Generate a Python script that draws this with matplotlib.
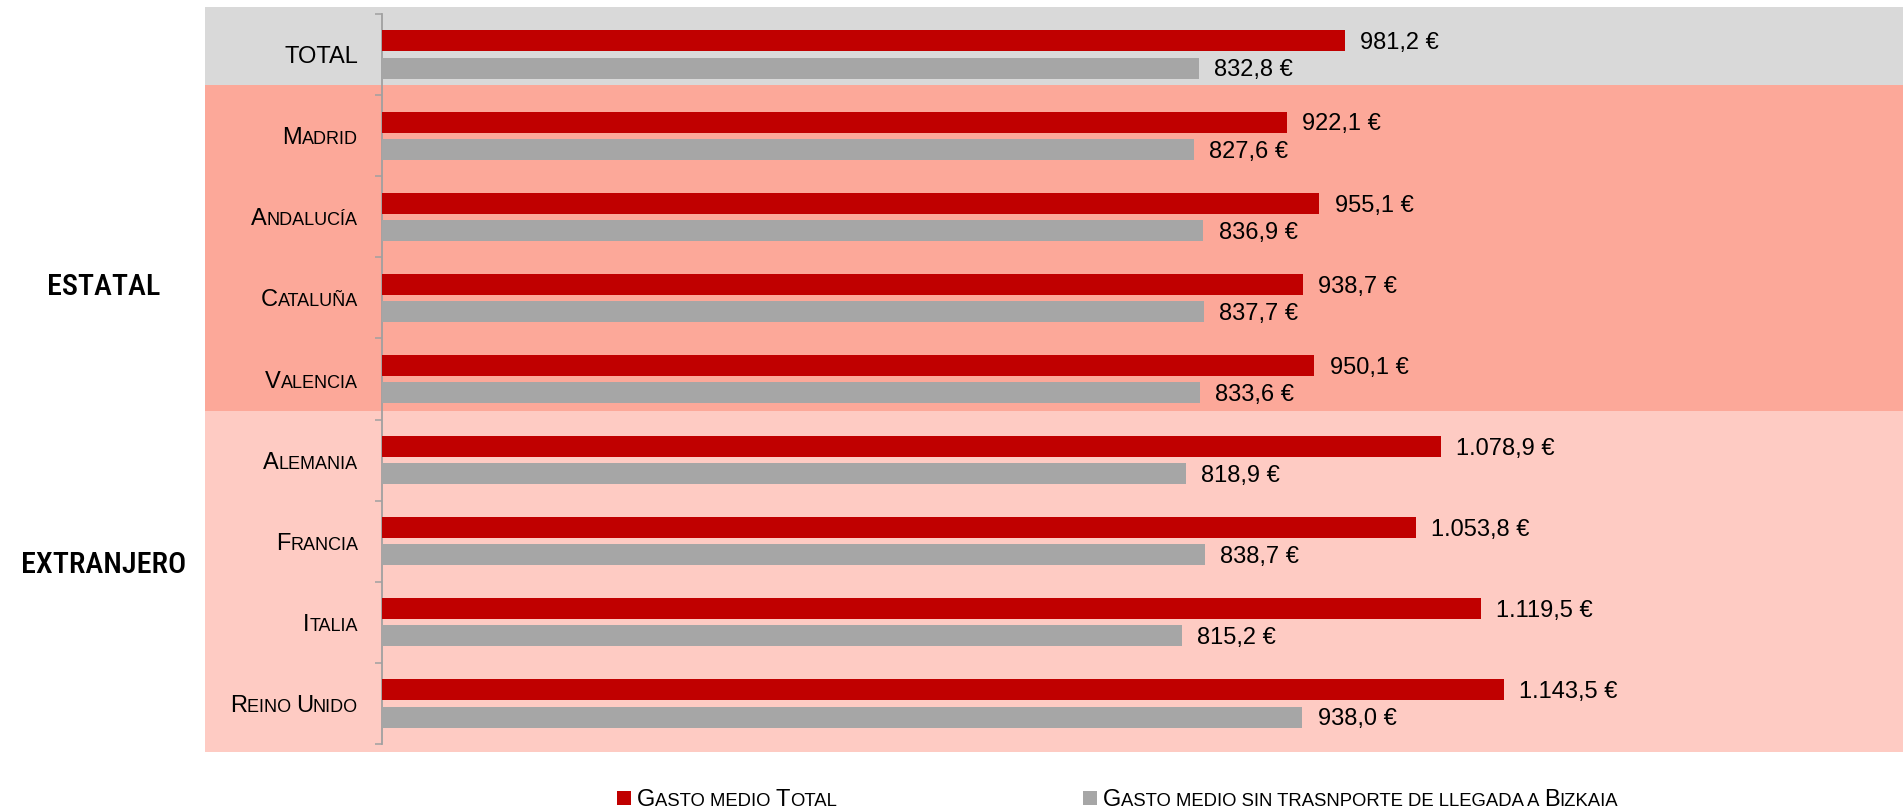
import matplotlib
matplotlib.use("Agg")
import matplotlib.pyplot as plt
from matplotlib import font_manager
from matplotlib.font_manager import FontProperties
from matplotlib.patches import Rectangle
from matplotlib.transforms import IdentityTransform
import numpy as np

# ---------------- data ----------------
categories = ["TOTAL", "Madrid", "Andalucía", "Cataluña", "Valencia",
              "Alemania", "Francia", "Italia", "Reino Unido"]
gasto_total = [981.2, 922.1, 955.1, 938.7, 950.1, 1078.9, 1053.8, 1119.5, 1143.5]
gasto_sin_transporte = [832.8, 827.6, 836.9, 837.7, 833.6, 818.9, 838.7, 815.2, 938.0]
series_labels = ["Gasto medio Total",
                 "Gasto medio sin trasnporte de llegada a Bizkaia"]
group_labels = ["ESTATAL", "EXTRANJERO"]

# ---------------- style ----------------
RED = "#C00000"
GREY = "#A6A6A6"
BAND_GREY = "#D9D9D9"
BAND_SALMON = "#FCA899"
BAND_PINK = "#FECBC3"
AXIS_GREY = "#A0A0A0"

W, H = 1903, 809


def has_font(name):
    try:
        font_manager.findfont(FontProperties(family=name), fallback_to_default=False)
        return True
    except Exception:
        return False


BASE = "Liberation Sans" if has_font("Liberation Sans") else "DejaVu Sans"
NARROW = None
for cand in ["Liberation Sans Narrow", "Roboto Condensed", "Open Sans Condensed"]:
    if has_font(cand):
        NARROW = cand
        break
if NARROW is None:
    GROUP_FAMILY, GROUP_SIZE, GROUP_WEIGHT = BASE, 19.5, "normal"
else:
    GROUP_FAMILY, GROUP_SIZE, GROUP_WEIGHT = NARROW, 21.8, "medium"

fig = plt.figure(figsize=(W / 100, H / 100), dpi=100)
fig.patch.set_facecolor("white")

# background bands (pixel coordinates, top-origin)
bands = [(7, 85, BAND_GREY), (85, 411, BAND_SALMON), (411, 752, BAND_PINK)]
for top, bot, col in bands:
    fig.add_artist(Rectangle((205 / W, (H - bot) / H), (W - 205) / W, (bot - top) / H,
                             transform=fig.transFigure, facecolor=col,
                             edgecolor="none", zorder=-10))

ax_left, ax_top, ax_bot = 382, 14, 744
ax = fig.add_axes([ax_left / W, (H - ax_bot) / H, (W - ax_left) / W, (ax_bot - ax_top) / H])
ax.set_facecolor("none")

n = len(categories)
y = np.arange(n)
off = 0.1675
bh = 0.259
ax.barh(y - off, gasto_total, height=bh, color=RED, zorder=3)
ax.barh(y + off, gasto_sin_transporte, height=bh, color=GREY, zorder=3)

ax.set_xlim(0, 1550)
ax.set_ylim(n - 0.5, -0.5)

for s in ["top", "right", "bottom"]:
    ax.spines[s].set_visible(False)
ax.spines["left"].set_color(AXIS_GREY)
ax.spines["left"].set_linewidth(1.3)
ax.set_xticks([])
ax.set_yticks(y)
ax.set_yticklabels([""] * n)
ax.tick_params(axis="y", which="major", length=0)
ax.set_yticks(np.arange(-0.5, n, 1.0), minor=True)
ax.tick_params(axis="y", which="minor", length=5.3, width=1.1, color=AXIS_GREY, direction="out")


def fmt(v):
    s = f"{v:,.1f}".replace(",", "X").replace(".", ",").replace("X", ".")
    return s + " €"


for i in range(n):
    ax.annotate(fmt(gasto_total[i]), xy=(gasto_total[i], y[i] - off), xytext=(11, -6),
                textcoords="offset points", ha="left", va="baseline",
                fontsize=17, family=BASE, color="black")
    ax.annotate(fmt(gasto_sin_transporte[i]), xy=(gasto_sin_transporte[i], y[i] + off),
                xytext=(11, -6), textcoords="offset points", ha="left", va="baseline",
                fontsize=17, family=BASE, color="black")

fig.canvas.draw()
renderer = fig.canvas.get_renderer()


def text_width(t, s):
    t.set_text(s + "|")
    w1 = t.get_window_extent(renderer).width
    t.set_text("|")
    w2 = t.get_window_extent(renderer).width
    t.set_text(s)
    return w1 - w2


def runs_of(text):
    runs = []
    for ch in text:
        big = ch.isupper()
        d = ch.upper()
        if runs and runs[-1][1] == big:
            runs[-1][0] += d
        else:
            runs.append([d, big])
    return runs


def smallcaps(x, yb, text, big, small, ha="left", family=BASE, color="black"):
    arts = []
    cx = 0.0
    for s, b in runs_of(text):
        t = fig.text(0, yb, s, fontsize=big if b else small, family=family,
                     transform=IdentityTransform(), ha="left", va="baseline", color=color)
        w = text_width(t, s)
        arts.append((t, cx))
        cx += w
    if ha == "right":
        start = x - cx
    elif ha == "center":
        start = x - cx / 2
    else:
        start = x
    for t, o in arts:
        t.set_x(start + o)


# category labels
BIG, SMALL = 17, 13
cap = 0.729 * BIG * 100 / 72
for i, c in enumerate(categories):
    ydisp = ax.transData.transform((0, i))[1]
    smallcaps(358, ydisp - cap / 2, c, BIG, SMALL, ha="right")

# group labels
fig.text(104, H - 295, group_labels[0], transform=IdentityTransform(), ha="center",
         va="baseline", fontsize=GROUP_SIZE, family=GROUP_FAMILY,
         fontweight=GROUP_WEIGHT, color="black")
fig.text(104, H - 573.3, group_labels[1], transform=IdentityTransform(), ha="center",
         va="baseline", fontsize=GROUP_SIZE, family=GROUP_FAMILY,
         fontweight=GROUP_WEIGHT, color="black")

# legend
leg = [(617, RED, series_labels[0]), (1083, GREY, series_labels[1])]
for x0, col, lab in leg:
    fig.add_artist(Rectangle((x0 / W, (H - 805) / H), 14 / W, 14 / H,
                             transform=fig.transFigure, facecolor=col, edgecolor="none"))
    smallcaps(x0 + 20, H - 806, lab, 17, 13.3, ha="left")

fig.savefig("out.png", dpi=100, facecolor="white")
